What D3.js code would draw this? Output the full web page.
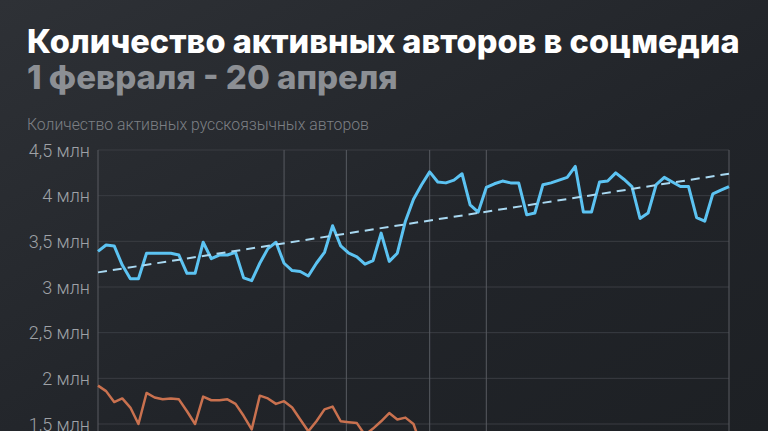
<!DOCTYPE html>
<html><head><meta charset="utf-8">
<script src="https://cdn.jsdelivr.net/npm/d3@7"></script>
<style>
html,body{margin:0;padding:0;background:#24272c;}
svg{display:block;}
</style></head>
<body>
<script>
// ---- DATA ----
const title = "Количество активных авторов в соцмедиа";
const subtitle = "1 февраля - 20 апреля";
const axisTitle = "Количество активных русскоязычных авторов";
const dayCount = 79; // 1 Feb .. 20 Apr
// active authors, millions (blue)
const seriesA = [3.39,3.46,3.45,3.24,3.09,3.09,3.37,3.37,3.37,3.37,3.35,3.15,3.15,3.49,3.31,3.35,3.35,3.38,3.10,3.07,
  3.26,3.42,3.49,3.26,3.18,3.17,3.12,3.26,3.38,3.67,3.45,3.37,3.33,3.25,3.29,3.59,3.28,3.37,3.72,3.96,
  4.12,4.26,4.15,4.14,4.17,4.24,3.90,3.82,4.09,4.13,4.16,4.14,4.14,3.79,3.81,4.12,4.14,4.17,4.20,4.32,
  3.82,3.82,4.15,4.16,4.25,4.18,4.10,3.75,3.81,4.12,4.20,4.15,4.10,4.10,3.76,3.72,4.02,4.06,4.10];
// second series, millions (orange)
const seriesB = [1.92,1.86,1.74,1.78,1.68,1.50,1.84,1.79,1.77,1.78,1.77,1.64,1.50,1.80,1.76,1.76,1.77,1.72,1.59,1.44,
  1.81,1.78,1.72,1.75,1.68,1.55,1.42,1.53,1.66,1.69,1.53,1.52,1.51,1.38,1.45,1.53,1.62,1.55,1.57,1.50,1.25];
// trend line end values (millions)
const trend = [3.16, 4.24];
// event marker day offsets
const eventDays = [0, 23, 30.7, 41, 48, 78];
const yTicks = [1.5, 2, 2.5, 3, 3.5, 4, 4.5];

// ---- LAYOUT ----
const W = 768, H = 431;
const svg = d3.select("body").append("svg").attr("width", W).attr("height", H);
const defs = svg.append("defs");
const g1 = defs.append("linearGradient").attr("id","bg").attr("x1","0").attr("y1","0").attr("x2","1").attr("y2","1");
g1.append("stop").attr("offset","0").attr("stop-color","#2e3136");
g1.append("stop").attr("offset","0.6").attr("stop-color","#212429");
g1.append("stop").attr("offset","1").attr("stop-color","#1d2024");
svg.append("rect").attr("width",W).attr("height",H).attr("fill","url(#bg)");

const x = d3.scaleLinear().domain([0, dayCount-1]).range([98, 729]);
const y = d3.scaleLinear().domain([1.5, 4.5]).range([424, 150]);

// horizontal grid
svg.append("g").selectAll("line").data(yTicks).join("line")
  .attr("x1", 98).attr("x2", 729)
  .attr("y1", d => y(d)).attr("y2", d => y(d))
  .attr("stroke", "#3a3d43").attr("stroke-width", 1);

// vertical event lines
svg.append("g").selectAll("line").data(eventDays).join("line")
  .attr("x1", d => x(d)).attr("x2", d => x(d))
  .attr("y1", y(4.5)).attr("y2", H)
  .attr("stroke", "#585b61").attr("stroke-width", 1);

// y axis labels
const fmt = d => String(d).replace(".", ",") + " млн";
const yAxis = d3.axisLeft(y).tickValues(yTicks).tickFormat(fmt).tickSize(0).tickPadding(0);
const ga = svg.append("g").attr("transform", "translate(90,0)").call(yAxis);
ga.select(".domain").remove();
ga.selectAll("text").attr("fill", "#9fa2a7").attr("font-family", "Roboto, sans-serif")
  .attr("font-weight", 300).attr("font-size", 18).attr("dy", "0.35em");

// lines
const lineGen = d3.line().x((d,i) => x(i)).y(d => y(d));
svg.append("path").datum(seriesB).attr("d", lineGen)
  .attr("fill","none").attr("stroke","#c9714f").attr("stroke-width",2.5).attr("stroke-linejoin","round");
svg.append("path").datum(seriesA).attr("d", lineGen)
  .attr("fill","none").attr("stroke","#5cc3f2").attr("stroke-width",3).attr("stroke-linejoin","round");
svg.append("line")
  .attr("x1", x(0)).attr("y1", y(trend[0])).attr("x2", x(dayCount-1)).attr("y2", y(trend[1]))
  .attr("stroke","#a9d9f2").attr("stroke-width",2).attr("stroke-dasharray","9,6");

// titles
function fitText(sel, target){
  const w = sel.node().getComputedTextLength();
  const fs = parseFloat(sel.attr("font-size"));
  sel.attr("font-size", fs * target / w);
}
const t1 = svg.append("text").text(title).attr("x", 27).attr("y", 53)
  .attr("fill","#ffffff").attr("font-family","Inter, sans-serif").attr("font-weight",800).attr("font-size",30);
fitText(t1, 713);
const t2 = svg.append("text").text(subtitle).attr("x", 27).attr("y", 89)
  .attr("fill","#8c8f94").attr("font-family","Inter, sans-serif").attr("font-weight",800).attr("font-size",30);
fitText(t2, 371);
const t3 = svg.append("text").text(axisTitle).attr("x", 27).attr("y", 130)
  .attr("fill","#7d8085").attr("font-family","Roboto, sans-serif").attr("font-weight",300).attr("font-size",13);
fitText(t3, 342);
</script>
</body></html>
